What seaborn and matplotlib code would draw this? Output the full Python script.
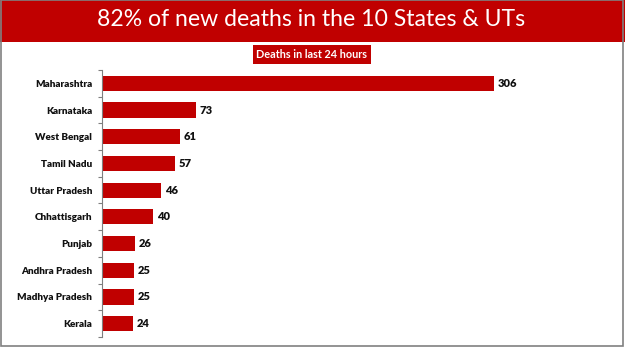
import matplotlib
matplotlib.use("Agg")
import matplotlib.pyplot as plt
import seaborn as sns
import pandas as pd
import numpy as np
from matplotlib.patches import Rectangle

states = ["Maharashtra", "Karnataka", "West Bengal", "Tamil Nadu", "Uttar Pradesh",
          "Chhattisgarh", "Punjab", "Andhra Pradesh", "Madhya Pradesh", "Kerala"]
deaths = [306, 73, 61, 57, 46, 40, 26, 25, 25, 24]
title = "82% of new deaths in the 10 States & UTs"
subtitle = "Deaths in last 24 hours"

sns.set_theme(style="white")
plt.rcParams['font.family'] = ['Lato', 'DejaVu Sans']

df = pd.DataFrame({"state": states, "deaths": deaths})
red = "#C00000"

fig = plt.figure(figsize=(6.25, 3.51), dpi=100)
W, H = 625, 351
ax = fig.add_axes([102 / W, 1 - 337 / H, (600 - 102) / W, (337 - 70) / H])
sns.barplot(data=df, y="state", x="deaths", orient="h", color=red, width=0.57,
            saturation=1, ax=ax, linewidth=0)
ax.set_xlim(0, 306 * (600 - 102) / (494 - 102))
ax.set_ylim(len(states) - 0.5, -0.5)
ax.set_xlabel("")
ax.set_ylabel("")
ax.set_xticks([])
for s in ["top", "right", "bottom"]:
    ax.spines[s].set_visible(False)
ax.spines["left"].set_color("#7f7f7f")
ax.spines["left"].set_linewidth(0.8)
ax.tick_params(axis="y", which="major", length=0, pad=7, labelsize=7.1)
for lab in ax.get_yticklabels():
    lab.set_fontweight("heavy")
    lab.set_color("#111111")
ax.set_yticks(np.arange(-0.5, len(states), 1), minor=True)
ax.tick_params(axis="y", which="minor", length=3, color="#7f7f7f", width=0.8, left=True)

for i, v in enumerate(deaths):
    ax.text(v + 3, i, str(v), va="center", ha="left", fontsize=8,
            fontweight="heavy", color="#111111")

# banner
fig.patches.append(Rectangle((0, 1 - 42 / H), 1, 42 / H, transform=fig.transFigure,
                             facecolor=red, edgecolor="none", zorder=0))
fig.text(311 / W, 1 - 20 / H, title, ha="center", va="center", color="white", fontsize=16.6)
fig.text(312 / W, 1 - 54.5 / H, subtitle, ha="center", va="center", color="white",
         fontsize=7.8, fontweight="bold",
         bbox=dict(boxstyle="square,pad=0.35", facecolor=red, edgecolor="none"))

# border
fig.patches.append(Rectangle((1.5 / W, 5 / H), (W - 3.5) / W, (H - 5) / H,
                             transform=fig.transFigure, facecolor="none",
                             edgecolor="#808080", linewidth=1.2, zorder=5))

fig.savefig("out.png", dpi=100)
